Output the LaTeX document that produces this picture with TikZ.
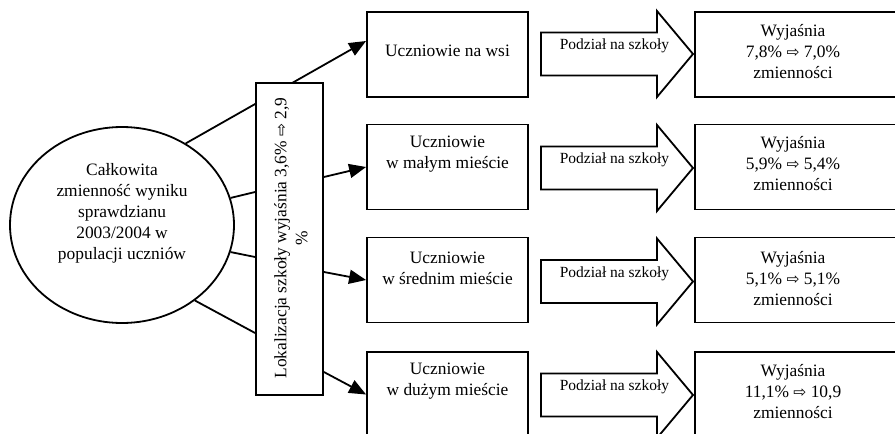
\documentclass[tikz,border=0pt]{standalone}
\usepackage{fontspec}
\setmainfont{Liberation Serif}
\newfontfamily\symfont{DejaVu Sans}
\usetikzlibrary{arrows.meta,shapes.geometric}
\newcommand{\rarr}{{\symfont\fontsize{15.5}{15.5}\selectfont ⇨}}
\begin{document}
\begin{tikzpicture}[x=1pt,y=-1pt,
  every node/.style={font=\fontsize{17.4}{21}\selectfont},
  box/.style={draw,line width=1.8pt,minimum width=161pt,minimum height=85pt,inner sep=0pt},
  rbox/.style={draw,line width=1.8pt,minimum width=202pt,minimum height=85pt,inner sep=0pt},
  txt/.style={align=center,inner sep=0pt},
  conn/.style={line width=1.8pt},
  arr/.style={conn,-{Triangle[length=17pt,width=14pt]}},
  blk/.style={draw,line width=1.8pt,fill=white,line join=miter},
  small/.style={font=\fontsize{15.5}{18}\selectfont,inner sep=0pt}]
\useasboundingbox (0,0) rectangle (895,434);
\clip (0,0) rectangle (895,434);
% ellipse
\node[draw,ellipse,line width=1.8pt,minimum width=224pt,minimum height=196pt,inner sep=0pt] (ell) at (122,225) {};
\node[txt] (ellt) at (122,213) {Całkowita\\zmienność wyniku\\sprawdzianu\\2003/2004 w\\populacji uczniów};
% middle boxes
\node[box] (m1) at (447.5,54.5) {};
\node[box] (m2) at (447.5,167) {};
\node[box] (m3) at (447.5,280) {};
\node[box] (m4) at (447.5,394.5) {};
\node[txt] (m1t) at (447.5,51) {Uczniowie na wsi};
\node[txt] (m2t) at (447.5,154) {Uczniowie\\w małym mieście};
\node[txt] (m3t) at (447.5,268) {Uczniowie\\w średnim mieście};
\node[txt] (m4t) at (447.5,381) {Uczniowie\\w dużym mieście};
% connector under the location box
\draw[arr] (ell.52.5) -- ([yshift=13.5pt]m1.west);
% location box
\node[draw,line width=1.8pt,fill=white,minimum width=67pt,minimum height=312pt,inner sep=0pt] (lok) at (289.5,239) {};
\node[txt,rotate=90] (lokt) at (291,238) {Lokalizacja szkoły wyjaśnia 3,6\% \rarr{} 2,9\\\%};
\draw[conn] (ell.14) -- ([yshift=47pt]lok.west);
\draw[conn] (ell.-14) -- ([yshift=-18pt]lok.west);
\draw[conn] (ell.-46) -- ([yshift=-94pt]lok.west);
\draw[arr] ([yshift=62pt]lok.east) -- (m2.west);
\draw[arr] ([yshift=-33pt]lok.east) -- (m3.west);
\draw[arr] ([yshift=-133pt]lok.east) -- (m4.west);
% block arrows
\foreach \c/\n in {54/1,168/2,281.5/3,395/4} {
  \draw[blk] (541,\c-21.5) -- (657,\c-21.5) -- (657,\c-43) -- (693,\c) -- (657,\c+43) -- (657,\c+21.5) -- (541,\c+21.5) -- cycle;
  \node[small] (p\n) at (614.5,\c-8) {Podział na szkoły};
}
% right boxes
\node[rbox] (r1) at (796,54.5) {};
\node[rbox] (r2) at (796,167) {};
\node[rbox] (r3) at (796,280) {};
\node[rbox] (r4) at (796,394.5) {};
\node[txt] (r1t) at (793,52) {Wyjaśnia\\7,8\% \rarr{} 7,0\%\\zmienności};
\node[txt] (r2t) at (793,164) {Wyjaśnia\\5,9\% \rarr{} 5,4\%\\zmienności};
\node[txt] (r3t) at (793,279) {Wyjaśnia\\5,1\% \rarr{} 5,1\%\\zmienności};
\node[txt] (r4t) at (793,392) {Wyjaśnia\\11,1\% \rarr{} 10,9\\zmienności};
\end{tikzpicture}
\end{document}
